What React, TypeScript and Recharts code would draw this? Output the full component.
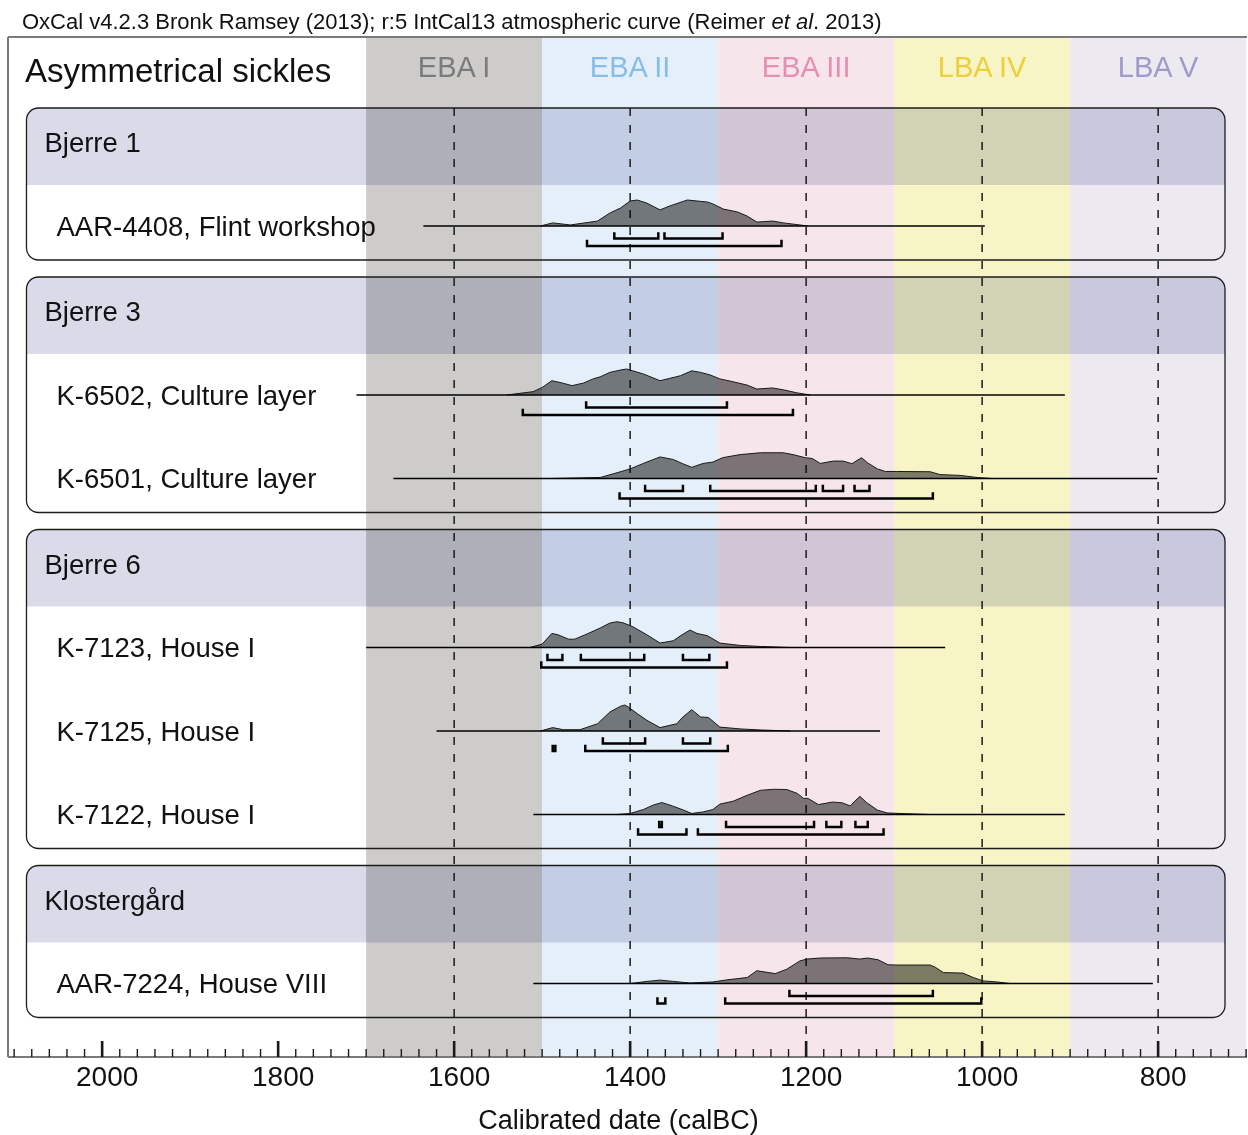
import React from "react";
import {
  Area,
  ComposedChart,
  Line,
  ReferenceArea,
  ReferenceLine,
  XAxis,
  YAxis,
} from "recharts";

const FONT = '"Liberation Sans", Arial, Helvetica, sans-serif';

// periods, calBC
const periodNames = ["EBA I", "EBA II", "EBA III", "LBA IV", "LBA V"];
const periodFrom = [1700, 1500, 1300, 1100, 900];
const periodTo = [1500, 1300, 1100, 900, 700];
const periodFills = ["#cdcccb", "#e5eff9", "#f6e6eb", "#f7f5c5", "#ece9f1"];
const periodInk = ["#7b7b7b", "#86bde9", "#e78fb3", "#eccf3a", "#9e9bcb"];

const groupNames = ["Bjerre 1", "Bjerre 3", "Bjerre 6", "Klostergård"];
const groupSizes = [1, 2, 3, 1];

const sampleNames = [
  "AAR-4408, Flint workshop",
  "K-6502, Culture layer",
  "K-6501, Culture layer",
  "K-7123, House I",
  "K-7125, House I",
  "K-7122, House I",
  "AAR-7224, House VIII",
];
const plotFrom = [1635, 1711, 1669, 1700, 1620, 1510, 1510];
const plotTo = [997, 906, 801, 1042, 1116, 906, 806];

// [year calBC, relative probability %]
const densityAAR4408 = [[1502, 0], [1488, 12], [1468, 4], [1437, 19], [1423, 50], [1411, 69], [1400, 96], [1392, 100], [1381, 88], [1366, 62], [1355, 77], [1335, 100], [1312, 92], [1306, 85], [1294, 65], [1278, 54], [1267, 38], [1256, 15], [1238, 19], [1226, 12], [1207, 4], [1198, 0]];
const densityK6502 = [[1540, 0], [1510, 13], [1500, 29], [1489, 55], [1477, 46], [1466, 36], [1453, 46], [1442, 62], [1434, 70], [1423, 87], [1411, 96], [1404, 100], [1397, 93], [1385, 81], [1366, 55], [1355, 64], [1343, 74], [1330, 93], [1320, 87], [1309, 77], [1298, 62], [1283, 51], [1267, 38], [1256, 23], [1238, 27], [1226, 20], [1210, 8], [1195, 0]];
const densityK6501 = [[1491, 0], [1434, 4], [1415, 22], [1400, 37], [1385, 58], [1366, 83], [1351, 73], [1341, 58], [1330, 43], [1317, 58], [1306, 63], [1295, 80], [1275, 92], [1252, 99], [1226, 99], [1215, 92], [1201, 80], [1193, 77], [1184, 58], [1169, 67], [1158, 67], [1148, 57], [1137, 80], [1130, 60], [1119, 37], [1110, 27], [1097, 27], [1059, 26], [1048, 15], [1025, 12], [1006, 4], [989, 0]];
const densityK7123 = [[1514, 0], [1500, 13], [1489, 54], [1482, 49], [1470, 32], [1463, 32], [1449, 52], [1434, 75], [1423, 94], [1415, 99], [1408, 95], [1397, 80], [1381, 49], [1366, 17], [1351, 26], [1341, 49], [1332, 67], [1324, 54], [1312, 45], [1298, 17], [1275, 8], [1252, 4], [1218, 0]];
const densityK7125 = [[1502, 0], [1488, 13], [1476, 5], [1457, 5], [1437, 28], [1423, 73], [1411, 95], [1406, 100], [1402, 92], [1392, 67], [1381, 41], [1366, 13], [1347, 28], [1340, 54], [1330, 82], [1320, 54], [1311, 52], [1298, 15], [1275, 8], [1252, 4], [1218, 0]];
const densityK7122 = [[1415, 0], [1400, 4], [1385, 19], [1374, 36], [1364, 46], [1352, 33], [1341, 19], [1330, 4], [1317, 10], [1306, 19], [1298, 40], [1283, 51], [1267, 74], [1252, 93], [1237, 97], [1222, 96], [1210, 81], [1203, 62], [1198, 62], [1186, 38], [1170, 48], [1159, 45], [1150, 33], [1139, 70], [1131, 45], [1119, 17], [1108, 6], [1093, 4], [1059, 0]];
const densityAAR7224 = [[1400, 0], [1381, 8], [1366, 13], [1351, 8], [1332, 2], [1306, 6], [1290, 14], [1267, 23], [1256, 49], [1235, 38], [1222, 55], [1207, 87], [1199, 94], [1184, 98], [1153, 99], [1139, 94], [1130, 98], [1118, 91], [1107, 72], [1097, 71], [1059, 71], [1053, 62], [1044, 42], [1022, 40], [1010, 23], [999, 10], [983, 6], [968, 0]];
const densities = [densityAAR4408, densityK6502, densityK6501, densityK7123, densityK7125, densityK7122, densityAAR7224];

// highest posterior density ranges
const range68 = [
  [[1418, 1368], [1361, 1295]],
  [[1450, 1290]],
  [[1383, 1340], [1309, 1189], [1181, 1158], [1145, 1128]],
  [[1494, 1477], [1456, 1384], [1340, 1310]],
  [[1431, 1383], [1340, 1309]],
  [[1367, 1364], [1291, 1191], [1177, 1160], [1144, 1130]],
  [[1219, 1056]],
];
const range95 = [
  [[1449, 1228]],
  [[1522, 1215]],
  [[1412, 1056]],
  [[1501, 1290]],
  [[1488, 1485], [1451, 1289]],
  [[1391, 1336], [1323, 1112]],
  [[1369, 1360], [1292, 1001]],
];

const majorYears = [2000, 1800, 1600, 1400, 1200, 1000, 800];
const dashedYears = [1600, 1400, 1200, 1000, 800];
const MINOR_STEP = 20;

// layout
const W = 1248;
const H = 1135;
const X_MIN = 699;
const X_MAX = 2107;
const Y_MAX = 1020;
const BOX_LEFT = 2086;
const BOX_RIGHT = 724;
const FIRST_TOP = 71;
const HEADER = 77;
const FIRST = 41;
const ROW = 83.5;
const LAST = 34;
const GAP = 17;
const PEAK = 26;

const ticks: number[] = [];
for (let y = 700; y <= 2100; y += MINOR_STEP) ticks.push(y);

const boxes: { top: number; header: number; bottom: number }[] = [];
const baselines: number[] = [];
{
  let top = FIRST_TOP;
  groupSizes.forEach((n) => {
    const header = top + HEADER;
    for (let i = 0; i < n; i++) baselines.push(header + FIRST + i * ROW);
    const bottom = header + FIRST + (n - 1) * ROW + LAST;
    boxes.push({ top, header, bottom });
    top = bottom + GAP;
  });
}

function YearTick(props: any) {
  const { x, y, payload } = props;
  const major = majorYears.includes(payload.value);
  return (
    <g>
      <line
        x1={x}
        x2={x}
        y1={y}
        y2={y - (major ? 16 : 8)}
        stroke="#1a1a1a"
        strokeWidth={major ? 2.6 : 1.4}
      />
      {major && (
        <text x={x + 5} y={y + 29} textAnchor="middle" fontSize={28} fill="#111">
          {payload.value}
        </text>
      )}
    </g>
  );
}

const headerShape = (props: any) => {
  const { x, y, width: w, height: h } = props;
  const r = 12;
  const d = `M${x},${y + h} L${x},${y + r} A${r},${r} 0 0 1 ${x + r},${y} L${x + w - r},${y} A${r},${r} 0 0 1 ${x + w},${y + r} L${x + w},${y + h} Z`;
  return <path d={d} fill="#d9dbe9" style={{ mixBlendMode: "multiply" }} />;
};

const boxShape = (props: any) => {
  const { x, y, width, height } = props;
  return (
    <rect x={x} y={y} width={width} height={height} rx={12} ry={12} fill="none" stroke="#1c1c1c" strokeWidth={1.3} />
  );
};

function bracket(a: number, b: number, y: number) {
  return [
    { x: a, y: y - 5 },
    { x: a, y },
    { x: b, y },
    { x: b, y: y - 5 },
  ];
}

export default function App() {
  return (
    <div style={{ position: "relative", width: W, height: H, fontFamily: FONT, background: "#fff" }}>
      <style>{`body{margin:0}`}</style>
      <div style={{ position: "absolute", left: 22, top: 9, fontSize: 22, lineHeight: "26px", color: "#111", whiteSpace: "nowrap" }}>
        OxCal v4.2.3 Bronk Ramsey (2013); r:5 IntCal13 atmospheric curve (Reimer <i>et al</i>. 2013)
      </div>
      <ComposedChart width={W} height={H} margin={{ top: 37, right: 1, bottom: 0, left: 8 }}>
        <XAxis
          type="number"
          dataKey="x"
          domain={[X_MIN, X_MAX]}
          reversed
          allowDataOverflow
          ticks={ticks}
          interval={0}
          tickLine={false}
          tickSize={0}
          tickMargin={0}
          tick={<YearTick />}
          axisLine={{ stroke: "#7a7a7a", strokeWidth: 2 }}
          height={78}
          label={{ value: "Calibrated date (calBC)", position: "insideBottom", offset: 6, fontSize: 27, fill: "#111", dx: -9 }}
        />
        <YAxis type="number" dataKey="y" domain={[0, Y_MAX]} reversed hide allowDataOverflow />

        {periodNames.map((name, i) => (
          <ReferenceArea
            key={name}
            x1={periodFrom[i]}
            x2={periodTo[i]}
            y1={0}
            y2={Y_MAX}
            fill={periodFills[i]}
            fillOpacity={1}
            stroke="none"
            zIndex={10}
            label={{ value: name, position: "insideTop", offset: 19, fontSize: 29, fill: periodInk[i] }}
          />
        ))}

        <ReferenceLine y={0} stroke="#7a7a7a" strokeWidth={2} zIndex={12} />
        <ReferenceLine x={X_MAX} stroke="#7a7a7a" strokeWidth={2} zIndex={12} />

        <ReferenceArea
          x1={X_MAX}
          x2={1700}
          y1={0}
          y2={66}
          fill="none"
          stroke="none"
          zIndex={12}
          label={{ value: "Asymmetrical sickles", position: "insideLeft", offset: 17, fontSize: 33, fill: "#111" }}
        />

        {boxes.map((b, i) => (
          <ReferenceArea
            key={`hd-${i}`}
            x1={BOX_LEFT}
            x2={BOX_RIGHT}
            y1={b.top}
            y2={b.header}
            shape={headerShape}
            zIndex={20}
            label={{ value: groupNames[i], position: "insideLeft", offset: 18, fontSize: 27.5, fill: "#111", dy: -4 }}
          />
        ))}

        {dashedYears.map((yr) => (
          <ReferenceLine
            key={`dash-${yr}`}
            segment={[
              { x: yr, y: FIRST_TOP },
              { x: yr, y: 1008 },
            ]}
            stroke="#1a1a1a"
            strokeWidth={1.5}
            strokeDasharray="8 9"
            zIndex={30}
          />
        ))}

        {boxes.map((b, i) => (
          <ReferenceArea key={`box-${i}`} x1={BOX_LEFT} x2={BOX_RIGHT} y1={b.top} y2={b.bottom} shape={boxShape} zIndex={40} />
        ))}

        {sampleNames.map((name, i) => (
          <ReferenceArea
            key={`lbl-${i}`}
            x1={BOX_LEFT}
            x2={1760}
            y1={baselines[i] - 20}
            y2={baselines[i] + 20}
            fill="none"
            stroke="none"
            zIndex={45}
            label={{ value: name, position: "insideLeft", offset: 30, fontSize: 27.5, fill: "#111" }}
          />
        ))}

        {densities.map((dens, i) => (
          <Area
            key={`dens-${i}`}
            data={dens.map(([yr, p]) => ({ x: yr, y: baselines[i] - (p / 100) * PEAK }))}
            dataKey="y"
            type="linear"
            baseValue={baselines[i]}
            fill="#000"
            fillOpacity={0.5}
            stroke="#1a1a1a"
            strokeWidth={1}
            isAnimationActive={false}
            dot={false}
            activeDot={false}
            zIndex={50}
          />
        ))}

        {sampleNames.map((_, i) => (
          <Line
            key={`base-${i}`}
            data={[
              { x: plotFrom[i], y: baselines[i] },
              { x: plotTo[i], y: baselines[i] },
            ]}
            dataKey="y"
            stroke="#000"
            strokeWidth={1.5}
            dot={false}
            activeDot={false}
            isAnimationActive={false}
            zIndex={60}
          />
        ))}

        {range68.flatMap((list, i) =>
          list.map(([a, b], j) => (
            <Line
              key={`r68-${i}-${j}`}
              data={bracket(a, b, baselines[i] + 12.5)}
              dataKey="y"
              stroke="#000"
              strokeWidth={2.5}
              strokeLinejoin="miter"
              strokeLinecap="square"
              dot={false}
              activeDot={false}
              isAnimationActive={false}
              zIndex={70}
            />
          ))
        )}
        {range95.flatMap((list, i) =>
          list.map(([a, b], j) => (
            <Line
              key={`r95-${i}-${j}`}
              data={bracket(a, b, baselines[i] + 20)}
              dataKey="y"
              stroke="#000"
              strokeWidth={2.5}
              strokeLinejoin="miter"
              strokeLinecap="square"
              dot={false}
              activeDot={false}
              isAnimationActive={false}
              zIndex={70}
            />
          ))
        )}
      </ComposedChart>
    </div>
  );
}
